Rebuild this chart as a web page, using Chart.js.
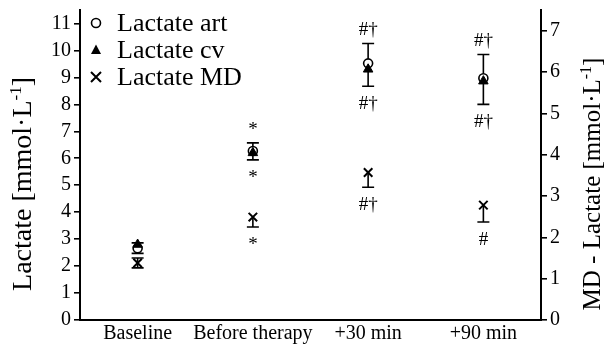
<!DOCTYPE html>
<html>
<head>
<meta charset="utf-8">
<script src="https://cdn.jsdelivr.net/npm/chart.js@4"></script>
<style>
  html, body { margin: 0; padding: 0; background: #fff; }
  #wrap { width: 613px; height: 346px; }
</style>
</head>
<body>
<div id="wrap"><canvas id="c" width="613" height="346"></canvas></div>
<script>
// Lactate time course: arterial, central venous and microdialysate (mmol/L)
const categories = ['Baseline', 'Before therapy', '+30 min', '+90 min'];

const lactateArt = [2.66, 6.27, 9.52, 8.97];
const lactateArtErrUp = [0.2, 0.3, 0.74, 0.88];
const lactateArtErrDown = [0, 0, 0, 0];

const lactateCv = [2.8, 6.2, 9.3, 8.86];
const lactateCvErrUp = [0, 0, 0, 0];
const lactateCvErrDown = [0.33, 0.26, 0.63, 0.86];

const lactateMd = [1.38, 2.49, 3.57, 2.78];
const lactateMdErrUp = [0.12, 0, 0, 0];
const lactateMdErrDown = [0.12, 0.24, 0.36, 0.41];

// significance marks: above / below the blood values, below the MD values
const marksAbove = ['', '*', '#†', '#†'];
const marksBelow = ['', '*', '#†', '#†'];
const marksBelowMd = ['', '*', '#†', '#'];

const leftTicks = [0, 1, 2, 3, 4, 5, 6, 7, 8, 9, 10, 11];
const rightTicks = [0, 1, 2, 3, 4, 5, 6, 7];

const FONT = "'Liberation Serif', 'Times New Roman', serif";
const INK = '#000';

const errorSets = [
  { ds: 0, up: lactateArtErrUp, down: lactateArtErrDown },
  { ds: 1, up: lactateCvErrUp, down: lactateCvErrDown },
  { ds: 2, up: lactateMdErrUp, down: lactateMdErrDown }
];

const errorBars = {
  id: 'errorBars',
  beforeDatasetsDraw(chart) {
    const ctx = chart.ctx;
    ctx.save();
    ctx.strokeStyle = INK;
    ctx.lineWidth = 1.6;
    errorSets.forEach(set => {
      const ds = chart.data.datasets[set.ds];
      const meta = chart.getDatasetMeta(set.ds);
      const scale = chart.scales[ds.yAxisID];
      meta.data.forEach((pt, i) => {
        const v = ds.data[i];
        const yTop = scale.getPixelForValue(v + set.up[i]);
        const yBot = scale.getPixelForValue(v - set.down[i]);
        const x = pt.x;
        ctx.beginPath();
        ctx.moveTo(x, yTop);
        ctx.lineTo(x, yBot);
        if (set.up[i] > 0) { ctx.moveTo(x - 6, yTop); ctx.lineTo(x + 6, yTop); }
        if (set.down[i] > 0) { ctx.moveTo(x - 6, yBot); ctx.lineTo(x + 6, yBot); }
        ctx.stroke();
      });
    });
    ctx.restore();
  }
};

const sigMarks = {
  id: 'sigMarks',
  afterDatasetsDraw(chart) {
    const ctx = chart.ctx;
    const y = chart.scales.y, y2 = chart.scales.y2, x = chart.scales.x;
    ctx.save();
    ctx.fillStyle = INK;
    ctx.font = '19px ' + FONT;
    ctx.textAlign = 'center';
    ctx.textBaseline = 'alphabetic';
    categories.forEach((c, i) => {
      const px = x.getPixelForValue(i);
      const top = y.getPixelForValue(lactateArt[i] + lactateArtErrUp[i]);
      const bot = y.getPixelForValue(lactateCv[i] - lactateCvErrDown[i]);
      const mdBot = y2.getPixelForValue(lactateMd[i] - lactateMdErrDown[i]);
      if (marksAbove[i]) ctx.fillText(marksAbove[i], px, top - 8);
      if (marksBelow[i]) ctx.fillText(marksBelow[i], px, bot + 23);
      if (marksBelowMd[i]) ctx.fillText(marksBelowMd[i], px, mdBot + 23);
    });
    ctx.restore();
  }
};

function drawMarker(ctx, style, x, y) {
  ctx.save();
  ctx.strokeStyle = INK;
  ctx.fillStyle = INK;
  ctx.lineWidth = 1.6;
  ctx.beginPath();
  if (style === 'circle') {
    ctx.fillStyle = '#fff';
    ctx.arc(x, y, 4.5, 0, Math.PI * 2);
    ctx.fill();
    ctx.stroke();
  } else if (style === 'triangle') {
    ctx.moveTo(x, y - 5.5);
    ctx.lineTo(x + 5, y + 4);
    ctx.lineTo(x - 5, y + 4);
    ctx.closePath();
    ctx.fill();
  } else {
    ctx.lineWidth = 2;
    ctx.moveTo(x - 5, y - 5); ctx.lineTo(x + 5, y + 5);
    ctx.moveTo(x + 5, y - 5); ctx.lineTo(x - 5, y + 5);
    ctx.stroke();
  }
  ctx.restore();
}

const innerLegend = {
  id: 'innerLegend',
  afterDraw(chart) {
    const ctx = chart.ctx;
    const left = chart.chartArea.left;
    ctx.save();
    ctx.fillStyle = INK;
    ctx.font = '26px ' + FONT;
    ctx.textAlign = 'left';
    ctx.textBaseline = 'middle';
    chart.data.datasets.forEach((ds, i) => {
      const yy = 23 + i * 27;
      drawMarker(ctx, ds.pointStyle, left + 16, yy);
      ctx.fillText(ds.label, left + 37, yy + 1);
    });
    ctx.restore();
  }
};

function drawTitle(ctx, cx, cy, size, main, sup, tail, angle) {
  const supSize = Math.round(size * 0.62);
  ctx.save();
  ctx.translate(cx, cy);
  ctx.rotate(angle);
  ctx.fillStyle = INK;
  ctx.textBaseline = 'alphabetic';
  ctx.textAlign = 'left';
  ctx.font = size + 'px ' + FONT;
  const w1 = ctx.measureText(main).width;
  const w3 = ctx.measureText(tail).width;
  ctx.font = supSize + 'px ' + FONT;
  const w2 = ctx.measureText(sup).width;
  const total = w1 + w2 + w3;
  let xx = -total / 2;
  const base = size * 0.33;
  ctx.font = size + 'px ' + FONT;
  ctx.fillText(main, xx, base);
  xx += w1;
  ctx.font = supSize + 'px ' + FONT;
  ctx.fillText(sup, xx, base - size * 0.38);
  xx += w2;
  ctx.font = size + 'px ' + FONT;
  ctx.fillText(tail, xx, base);
  ctx.restore();
}

const axisTitles = {
  id: 'axisTitles',
  afterDraw(chart) {
    const ctx = chart.ctx;
    drawTitle(ctx, 22, 184, 28, 'Lactate [mmol·L', '-1', ']', -Math.PI / 2);
    drawTitle(ctx, 592, 184, 25, 'MD - Lactate [mmol·L', '-1', ']', -Math.PI / 2);
  }
};

function keepTicks(list) {
  return scale => {
    scale.ticks = list.map(v => ({ value: v }));
  };
}
function fixWidth(w) {
  return scale => { scale.width = w; scale.paddingTop = 0; scale.paddingBottom = 0; };
}

new Chart(document.getElementById('c'), {
  type: 'line',
  data: {
    labels: categories,
    datasets: [
      {
        label: 'Lactate art', data: lactateArt, yAxisID: 'y', showLine: false,
        pointStyle: 'circle', pointRadius: 4.5, pointBorderWidth: 1.6,
        pointBackgroundColor: '#fff', pointBorderColor: INK, order: 2
      },
      {
        label: 'Lactate cv', data: lactateCv, yAxisID: 'y', showLine: false,
        pointStyle: 'triangle', pointRadius: 5.5, pointBorderWidth: 1,
        pointBackgroundColor: INK, pointBorderColor: INK, order: 1
      },
      {
        label: 'Lactate MD', data: lactateMd, yAxisID: 'y2', showLine: false,
        pointStyle: 'crossRot', pointRadius: 6, pointBorderWidth: 2,
        pointBackgroundColor: INK, pointBorderColor: INK, order: 0
      }
    ]
  },
  options: {
    responsive: false,
    devicePixelRatio: 1,
    animation: false,
    layout: { padding: { top: 10, left: 0, right: 0, bottom: 0 } },
    plugins: { legend: { display: false }, tooltip: { enabled: false } },
    scales: {
      x: {
        type: 'category', offset: true,
        grid: { display: true, drawOnChartArea: false, drawTicks: false },
        border: { display: true, color: INK, width: 2 },
        ticks: { color: INK, font: { family: FONT, size: 20 }, padding: 2, maxRotation: 0, autoSkip: false },
        afterFit: s => { s.height = 26; s.paddingLeft = 0; s.paddingRight = 0; }
      },
      y: {
        position: 'left', min: 0, max: 11.5,
        afterBuildTicks: keepTicks(leftTicks),
        ticks: { color: INK, font: { family: FONT, size: 20 }, padding: 3 },
        grid: { drawOnChartArea: false, drawTicks: true, tickLength: 6, color: INK, lineWidth: 1.6 },
        border: { display: true, color: INK, width: 2 },
        afterFit: fixWidth(80)
      },
      y2: {
        position: 'right', min: 0, max: 7.5,
        afterBuildTicks: keepTicks(rightTicks),
        ticks: { color: INK, font: { family: FONT, size: 20 }, padding: 3 },
        grid: { drawOnChartArea: false, drawTicks: true, tickLength: 6, color: INK, lineWidth: 1.6 },
        border: { display: true, color: INK, width: 2 },
        afterFit: fixWidth(72)
      }
    }
  },
  plugins: [errorBars, sigMarks, innerLegend, axisTitles]
});
</script>
</body>
</html>
